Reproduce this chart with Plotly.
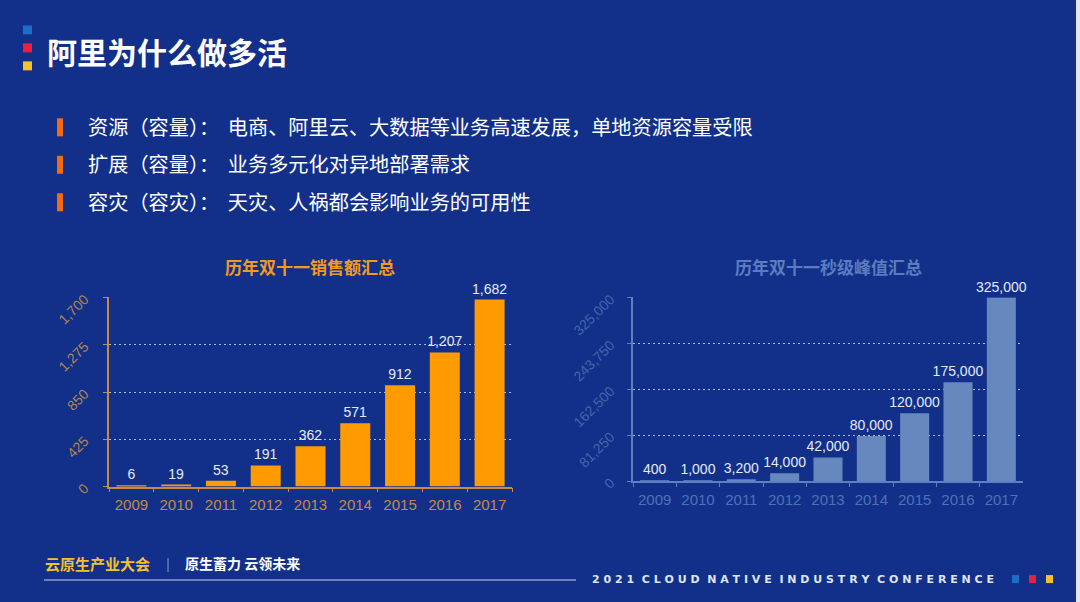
import plotly.graph_objects as go

# ---------------- data ----------------
years = ["2009", "2010", "2011", "2012", "2013", "2014", "2015", "2016", "2017"]
sales = [6, 19, 53, 191, 362, 571, 912, 1207, 1682]
peaks = [400, 1000, 3200, 14000, 42000, 80000, 120000, 175000, 325000]
sales_ticks = [0, 425, 850, 1275, 1700]
peak_ticks = [0, 81250, 162500, 243750, 325000]

page_title = "阿里为什么做多活"
bullets = [
    "资源（容量）：电商、阿里云、大数据等业务高速发展，单地资源容量受限",
    "扩展（容量）：业务多元化对异地部署需求",
    "容灾（容灾）：天灾、人祸都会影响业务的可用性",
]
chart1_title = "历年双十一销售额汇总"
chart2_title = "历年双十一秒级峰值汇总"
footer_left = "云原生产业大会"
footer_mid = "原生蓄力 云领未来"
footer_right = "2021 CLOUD NATIVE INDUSTRY CONFERENCE"

W, H = 1080, 602
BG = "#12308a"
CJK = "Noto Sans CJK SC"
NUM = "Liberation Sans, Arial, sans-serif"

# vertical calibration of the captured picture
Y0, YS = 5.6, 0.974


def px(x):
    return x / W


def py(y):
    return 1 - ((y - Y0) / YS) / H


fig = go.Figure()

fig.add_trace(go.Bar(
    x=years, y=sales, xaxis="x", yaxis="y",
    marker=dict(color="#ff9a00", line=dict(width=0)),
    text=[f"{v:,}" for v in sales], textposition="outside",
    textfont=dict(color="#e4ebf8", size=14, family=NUM),
    cliponaxis=False, constraintext="none", hoverinfo="skip",
))
fig.add_trace(go.Bar(
    x=years, y=peaks, xaxis="x2", yaxis="y2",
    marker=dict(color="#6787bf", line=dict(width=0)),
    text=[f"{v:,}" for v in peaks], textposition="outside",
    textfont=dict(color="#e4ebf8", size=14, family=NUM),
    cliponaxis=False, constraintext="none", hoverinfo="skip",
))

grid = "rgba(215,225,250,0.8)"
orange_axis = "#c9894a"
orange_tick = "#b08652"
blue_axis = "#5f7fc0"
blue_tick = "#4465ab"

fig.update_layout(
    width=W, height=H,
    margin=dict(l=0, r=0, t=0, b=0),
    paper_bgcolor=BG, plot_bgcolor="rgba(0,0,0,0)",
    showlegend=False,
    bargap=0.33,
    font=dict(family=NUM),
    xaxis=dict(
        domain=[px(109), px(512)], anchor="y",
        showline=True, linecolor=orange_axis, linewidth=1.5,
        ticks="outside", tickson="boundaries", ticklen=4, tickcolor=orange_axis,
        ticklabelstandoff=4,
        tickfont=dict(color="#c88a40", size=15, family=NUM),
        showgrid=False, fixedrange=True,
    ),
    yaxis=dict(
        domain=[py(486.5), py(297)], anchor="x",
        range=[0, sales_ticks[-1] * 1.002], tickvals=sales_ticks, tickformat=",",
        showline=True, linecolor=orange_axis, linewidth=1.5,
        ticks="outside", ticklen=4, tickcolor=orange_axis,
        ticklabelstandoff=16,
        tickangle=-45, tickfont=dict(color=orange_tick, size=14, family=NUM),
        showgrid=True, gridcolor=grid, griddash="2px,3px", gridwidth=1,
        zeroline=False, fixedrange=True,
    ),
    xaxis2=dict(
        domain=[px(633), px(1023)], anchor="y2",
        showline=True, linecolor=blue_axis, linewidth=1.5,
        ticks="outside", tickson="boundaries", ticklen=4, tickcolor=blue_axis,
        ticklabelstandoff=4,
        tickfont=dict(color="#4f70b5", size=15, family=NUM),
        showgrid=False, fixedrange=True,
    ),
    yaxis2=dict(
        domain=[py(481), py(297)], anchor="x2",
        range=[0, peak_ticks[-1] * 1.002], tickvals=peak_ticks, tickformat=",",
        showline=True, linecolor=blue_axis, linewidth=1.5,
        ticks="outside", ticklen=4, tickcolor=blue_axis,
        ticklabelstandoff=14,
        tickangle=-45, tickfont=dict(color=blue_tick, size=14, family=NUM),
        showgrid=True, gridcolor=grid, griddash="2px,3px", gridwidth=1,
        zeroline=False, fixedrange=True,
    ),
)

shapes = []
annotations = []


def rect(x0, y0, x1, y1, color):
    shapes.append(dict(type="rect", xref="paper", yref="paper",
                       x0=px(x0), x1=px(x1), y0=py(y1), y1=py(y0),
                       fillcolor=color, line=dict(width=0), layer="above"))


def text(x, y, s, size, color, xanchor="left", bold=False, family=CJK):
    annotations.append(dict(
        x=px(x), y=py(y), xref="paper", yref="paper", showarrow=False,
        text=f"<b>{s}</b>" if bold else s, xanchor=xanchor, yanchor="middle",
        font=dict(size=size, color=color, family=family),
    ))


# title squares
rect(23, 25, 32, 34, "#1d6fc6")
rect(23, 43, 32, 52, "#e8213c")
rect(23, 61, 32, 70, "#f6c12e")
text(45, 51, page_title, 30, "#ffffff", bold=True)

# bullets
for b, yc in zip(bullets, [127, 164.5, 202]):
    rect(57, yc - 9, 63, yc + 9, "#f26a12")
    text(86, yc - 1, b.replace("：", "： \u2009"), 20.2, "#ffffff")

# chart titles
text(310, 266, chart1_title, 17, "#f39a1c", xanchor="center", bold=True)
text(828, 266, chart2_title, 17, "#5b7dc0", xanchor="center", bold=True)

# footer
text(43, 563, footer_left, 15, "#f5c02e", bold=True)
shapes.append(dict(type="line", xref="paper", yref="paper",
                   x0=px(168), x1=px(168), y0=py(558), y1=py(572),
                   line=dict(color="#8d9bc8", width=1)))
text(183, 563, footer_mid, 14, "#ffffff", bold=True)
shapes.append(dict(type="line", xref="paper", yref="paper",
                   x0=px(44), x1=px(576), y0=py(580), y1=py(580),
                   line=dict(color="#8d9bc8", width=1.5)))
spaced = "  ".join(" ".join(list(w)) for w in footer_right.split(" "))
text(590, 579, spaced, 11, "#dfe5f4", bold=True, family="DejaVu Sans")
rect(1012, 575, 1019, 583, "#1d6fc6")
rect(1029, 575, 1036, 583, "#e8213c")
rect(1046, 575, 1053, 583, "#f6c12e")

# right edge border
rect(1076, -10, 1080, 620, "#e3e6f2")

fig.update_layout(shapes=shapes, annotations=annotations)
fig.write_html(
    "out.html",
    config={"displayModeBar": False},
    post_script="document.documentElement.style.margin='0';"
                "document.body.style.margin='0';"
                "document.body.style.overflow='hidden';",
)
